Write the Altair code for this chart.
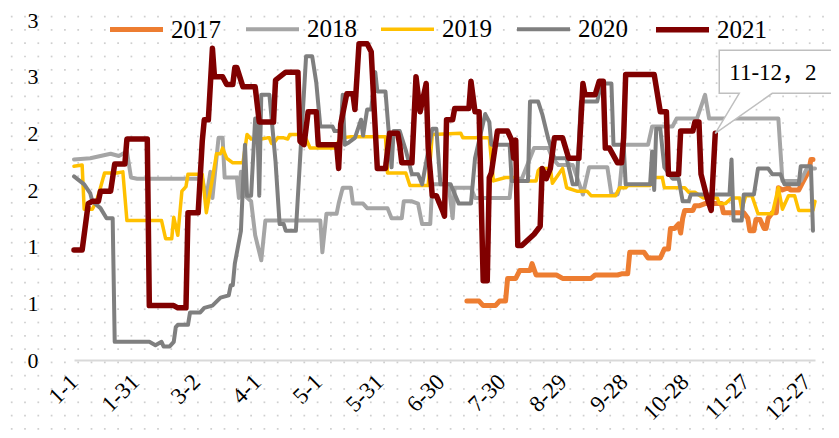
import json
import numpy as np
import pandas as pd
import altair as alt

FONT = "Liberation Serif, Noto Sans CJK SC"

# ---- axis ticks / labels ----
x_tick_days = [0, 30, 60, 90, 120, 150, 180, 210, 240, 270, 300, 330, 360]
x_tick_labels = ["1-1", "1-31", "3-2", "4-1", "5-1", "5-31", "6-30",
                 "7-30", "8-29", "9-28", "10-28", "11-27", "12-27"]
y_tick_values = [0, 0.5, 1, 1.5, 2, 2.5, 3]
y_tick_labels = ["0", "1", "1", "2", "2", "3", "3"]

years = ["2017", "2018", "2019", "2020", "2021"]
colors = ["#ED7D31", "#A5A5A5", "#FFC000", "#7F7F7F", "#800000"]
widths = [5, 4, 3.5, 4, 5.5]

# ---- series: (day of year index, value) ----
series_2017 = [(193,0.52),(199,0.52),(201,0.48),(207,0.48),(209,0.52),(212,0.52),(213,0.72),(217,0.72),
               (219,0.79),(224,0.79),(225,0.85),(227,0.75),(237,0.75),(240,0.72),(254,0.72),(256,0.75),
               (267,0.75),(269,0.76),(272,0.76),(273,0.95),(280,0.95),(282,0.90),(288,0.90),(290,0.98),
               (292,0.98),(293,1.16),(295,1.16),(297,1.20),(298,1.12),(299,1.25),(300,1.32),(304,1.32),
               (305,1.36),(307,1.36),(310,1.38),(318,1.38),(319,1.30),(329,1.30),(331,1.25),(332,1.14),
               (334,1.14),(335,1.24),(337,1.24),(339,1.16),(340,1.16),(341,1.25),(343,1.30),(345,1.30),
               (346,1.52),(348,1.50),(351,1.52),(352,1.50),(356,1.50),(358,1.57),(361,1.67),(362,1.77),
               (363,1.77)]

series_2018 = [(0,1.77),(8,1.78),(18,1.82),(22,1.80),(26,1.84),(28,1.61),(31,1.60),(63,1.60),(65,1.43),
               (67,1.66),(68,1.43),(71,1.96),(73,1.96),(74,1.61),(80,1.61),(81,1.43),(82,1.66),(84,1.45),
               (87,1.40),(89,1.10),(92,0.88),(94,1.23),(121,1.23),(122,0.95),(124,1.29),(129,1.29),
               (130,1.38),(132,1.52),(136,1.52),(137,1.38),(142,1.38),(144,1.34),(154,1.34),(156,1.25),
               (161,1.25),(162,1.40),(166,1.40),(169,1.38),(171,1.20),(175,1.20),(176,1.55),(184,1.55),
               (186,1.25),(187,1.52),(195,1.52),(197,1.43),(214,1.43),(215,1.60),(220,1.60),(226,1.87),
               (233,1.87),(235,1.78),(238,1.72),(245,1.72),(250,1.46),(253,1.70),(262,1.70),(264,1.46),
               (267,1.46),(268,1.52),(270,1.90),(282,1.90),(284,2.06),(294,2.06),(296,2.13),(306,2.13),
               (310,2.34),(312,2.13),(346,2.13),(348,1.58),(357,1.58),(360,1.69),(364,1.69)]

series_2019 = [(0,1.71),(4,1.72),(5,1.33),(9,1.33),(11,1.40),(13,1.52),(15,1.65),(21,1.65),(24,1.66),
               (26,1.23),(43,1.23),(45,1.07),(48,1.07),(49,1.26),(51,1.10),(53,1.49),(55,1.53),(56,1.64),
               (63,1.64),(65,1.30),(68,1.60),(70,1.82),(72,1.82),(73,1.87),(75,1.78),(78,1.74),(83,1.74),
               (85,1.99),(87,1.95),(92,1.95),(95,1.96),(96,1.96),(97,1.91),(98,1.91),(100,1.96),(103,1.96),
               (105,1.95),(106,1.99),(113,1.99),(115,1.91),(116,1.87),(128,1.87),(131,1.96),(136,1.97),
               (153,1.97),(154,1.65),(163,1.65),(165,1.54),(174,1.54),(176,1.99),(190,2.00),(191,1.96),
               (204,1.96),(206,1.58),(212,1.61),(216,1.61),(218,1.58),(227,1.58),(228,1.67),(229,1.69),
               (234,1.69),(235,1.56),(240,1.69),(242,1.52),(247,1.49),(252,1.49),(254,1.45),(266,1.45),
               (268,1.52),(271,1.52),(272,1.54),(283,1.54),(285,1.61),(289,1.61),(290,1.52),(300,1.52),
               (302,1.48),(305,1.48),(309,1.43),(316,1.43),(317,1.38),(320,1.38),(323,1.43),(327,1.43),
               (328,1.33),(330,1.45),(333,1.45),(336,1.29),(343,1.29),(346,1.52),(348,1.33),(351,1.45),
               (354,1.45),(356,1.32),(363,1.32),(364,1.40)]

series_2020 = [(0,1.62),(5,1.55),(8,1.47),(9,1.40),(13,1.34),(16,1.25),(19,1.25),(20,0.16),(37,0.16),
               (40,0.13),(43,0.16),(44,0.12),(47,0.12),(49,0.16),(50,0.29),(51,0.31),(56,0.31),(57,0.42),
               (62,0.42),(64,0.46),(68,0.48),(72,0.55),(76,0.57),(77,0.66),(78,0.66),(79,0.85),(82,1.14),
               (83,1.55),(84,1.90),(85,1.45),(87,1.45),(89,2.13),(90,2.13),(91,1.45),(92,2.34),(96,2.34),
               (99,1.75),(101,1.20),(103,1.20),(104,1.14),(109,1.14),(114,2.68),(117,2.68),(119,2.45),
               (121,2.06),(127,2.06),(128,2.02),(131,2.02),(132,2.34),(133,1.90),(135,1.92),(138,1.96),
               (141,2.12),(142,1.98),(144,2.21),(146,2.21),(148,2.54),(149,2.37),(153,2.37),(156,1.70),
               (157,2.02),(160,2.02),(163,1.85),(166,1.64),(169,1.64),(171,1.55),(176,2.04),(178,2.04),
               (180,1.55),(185,1.55),(189,1.38),(195,1.38),(197,1.78),(202,2.17),(204,2.10),(205,1.90),
               (214,1.90),(215,1.58),(223,1.58),(224,2.28),(228,2.28),(230,2.17),(233,1.95),(236,1.78),
               (242,1.78),(245,1.55),(247,1.55),(249,2.28),(257,2.28),(259,2.44),(264,2.44),(265,1.90),
               (270,1.90),(271,1.55),(283,1.55),(284,1.84),(285,1.50),(286,2.04),(288,2.04),(290,1.70),
               (294,1.60),(297,1.60),(299,1.40),(302,1.40),(303,1.46),(322,1.46),(323,1.77),(324,1.23),
               (328,1.23),(329,1.46),(334,1.46),(336,1.69),(341,1.69),(343,1.64),(347,1.64),(349,1.55),
               (356,1.55),(357,1.71),(362,1.71),(363,1.14)]

series_2021 = [(0,0.97),(4,0.97),(7,1.38),(9,1.40),(12,1.40),(13,1.49),(18,1.49),(20,1.73),(25,1.73),
               (26,1.95),(36,1.95),(37,0.48),(49,0.48),(51,0.46),(55,0.46),(56,1.30),(61,1.30),(63,1.93),
               (64,2.12),(66,2.12),(68,2.75),(69,2.50),(73,2.50),(75,2.43),(78,2.43),(79,2.58),(80,2.58),
               (83,2.41),(89,2.41),(91,2.10),(98,2.10),(99,2.47),(104,2.54),(110,2.54),(111,1.93),
               (113,1.90),(115,2.19),(119,2.19),(120,1.90),(129,1.90),(130,1.69),(131,2.08),(134,2.35),
               (137,2.35),(138,2.21),(140,2.79),(144,2.79),(146,2.72),(147,2.37),(149,1.69),(153,1.69),
               (155,2.00),(159,2.00),(160,1.90),(161,1.74),(166,1.74),(168,2.50),(170,2.19),(173,2.44),
               (174,1.87),(176,1.45),(178,1.45),(181,1.32),(182,1.27),(183,2.12),(186,2.12),(187,2.22),
               (194,2.22),(195,2.46),(197,2.19),(199,2.19),(201,0.70),(203,0.70),(204,1.61),(205,1.65),
               (208,2.02),(213,2.02),(215,1.94),(216,1.78),(217,1.94),(218,1.01),(220,1.01),(226,1.11),
               (229,1.18),(230,1.69),(232,1.60),(234,1.69),(236,1.96),(240,1.96),(243,1.78),(248,1.78),
               (250,2.44),(251,2.34),(256,2.34),(258,2.46),(260,2.46),(261,1.87),(263,1.87),(267,1.74),
               (269,1.74),(270,1.96),(271,2.52),(285,2.52),(288,2.19),(291,2.19),(292,1.64),(297,1.64),
               (298,2.02),(304,2.02),(305,2.10),(307,2.10),(308,1.64),(311,1.43),(313,1.32),(315,2.00)]

all_series = [series_2017, series_2018, series_2019, series_2020, series_2021]

rows = []
for yr, ser in zip(years, all_series):
    for d, v in ser:
        rows.append({"day": d, "value": v, "year": yr})
df = pd.DataFrame(rows)

# ---- geometry of the plot area ----
W, H = 741, 340
PAD = {"left": 66, "top": 12, "right": 16, "bottom": 70}
X_DOMAIN = [0, 364]
Y_DOMAIN = [0, 3]

# ---- dotted background texture (decoration) ----
px_per_day = W / (X_DOMAIN[1] - X_DOMAIN[0])
px_per_unit = H / (Y_DOMAIN[1] - Y_DOMAIN[0])
plot_left = 8 + PAD["left"]
plot_top = 8 + PAD["top"]
gx = (np.arange(11.7, 839, 13.3) - plot_left) / px_per_day
gy = (H - (np.arange(3.3, 438, 13.3) - plot_top)) / px_per_unit
gxx, gyy = np.meshgrid(gx, gy)
dots = pd.DataFrame({"day": gxx.ravel(), "value": gyy.ravel()})

xscale = alt.Scale(domain=X_DOMAIN, nice=False, zero=False)
yscale = alt.Scale(domain=Y_DOMAIN, nice=False)

x_label_expr = json.dumps(x_tick_labels) + "[round(datum.value / 30)]"
y_label_expr = json.dumps(y_tick_labels) + "[round(datum.value * 2)]"

x_axis = alt.Axis(values=x_tick_days, labelExpr=x_label_expr, labelAngle=-45,
                  labelAlign="right", labelBaseline="middle", labelFont=FONT,
                  labelFontSize=23, labelColor="black", ticks=False, grid=False,
                  domainColor="#d9d9d9", domainWidth=2, labelPadding=18,
                  title=None, labelOverlap=False)
y_axis = alt.Axis(values=y_tick_values, labelExpr=y_label_expr, labelFont=FONT,
                  labelFontSize=22, labelColor="black", ticks=False, grid=False,
                  domain=False, labelPadding=36, title=None)

dots_layer = alt.Chart(dots).mark_square(size=3, color="#cfcfcf", opacity=1).encode(
    x=alt.X("day:Q", scale=xscale, axis=x_axis),
    y=alt.Y("value:Q", scale=yscale, axis=y_axis),
)

legend = alt.Legend(title=None, orient="none", legendX=33, legendY=-20,
                    direction="horizontal", columns=5, symbolType="stroke",
                    symbolSize=2809, labelFont=FONT, labelFontSize=25,
                    labelColor="black", columnPadding=17, labelOffset=5, padding=0)

lines = alt.Chart(df).mark_line(strokeCap="round", strokeJoin="round").encode(
    x=alt.X("day:Q", scale=xscale),
    y=alt.Y("value:Q", scale=yscale),
    color=alt.Color("year:O", scale=alt.Scale(type="ordinal", domain=years, range=colors), legend=legend),
    strokeWidth=alt.StrokeWidth("year:O", scale=alt.Scale(type="ordinal", domain=years, range=widths),
                                legend=legend),
    order=alt.Order("day:Q"),
)

# ---- data callout on the last 2021 point ----
last_day, last_val = series_2021[-1]
last_date = pd.Timestamp("2021-01-01") + pd.Timedelta(days=last_day)
callout = pd.DataFrame({"day": [last_day], "value": [last_val],
                        "label": [f"{last_date.month}-{last_date.day}，{last_val:.0f}"]})
callout_path = "M0,0 L24,-40 L4,-40 L4,-83 L160,-83 L160,-40 L57,-40 Z"
box = alt.Chart(callout).mark_point(shape=callout_path, size=4, filled=True,
                                    fill="white", stroke="#bfbfbf", strokeWidth=1.5,
                                    opacity=1, fillOpacity=1, strokeOpacity=1).encode(
    x=alt.X("day:Q", scale=xscale), y=alt.Y("value:Q", scale=yscale))
box_text = alt.Chart(callout).mark_text(align="left", baseline="alphabetic", dx=14, dy=-53,
                                        font=FONT, fontSize=23, color="black").encode(
    x=alt.X("day:Q", scale=xscale), y=alt.Y("value:Q", scale=yscale), text="label:N")

chart = alt.layer(dots_layer, lines, box, box_text).properties(
    width=W, height=H,
    autosize=alt.AutoSizeParams(type="none"),
    padding=PAD,
    background="white",
).configure_view(stroke=None)

chart.save("out.html", embed_options={"renderer": "svg", "actions": False})
